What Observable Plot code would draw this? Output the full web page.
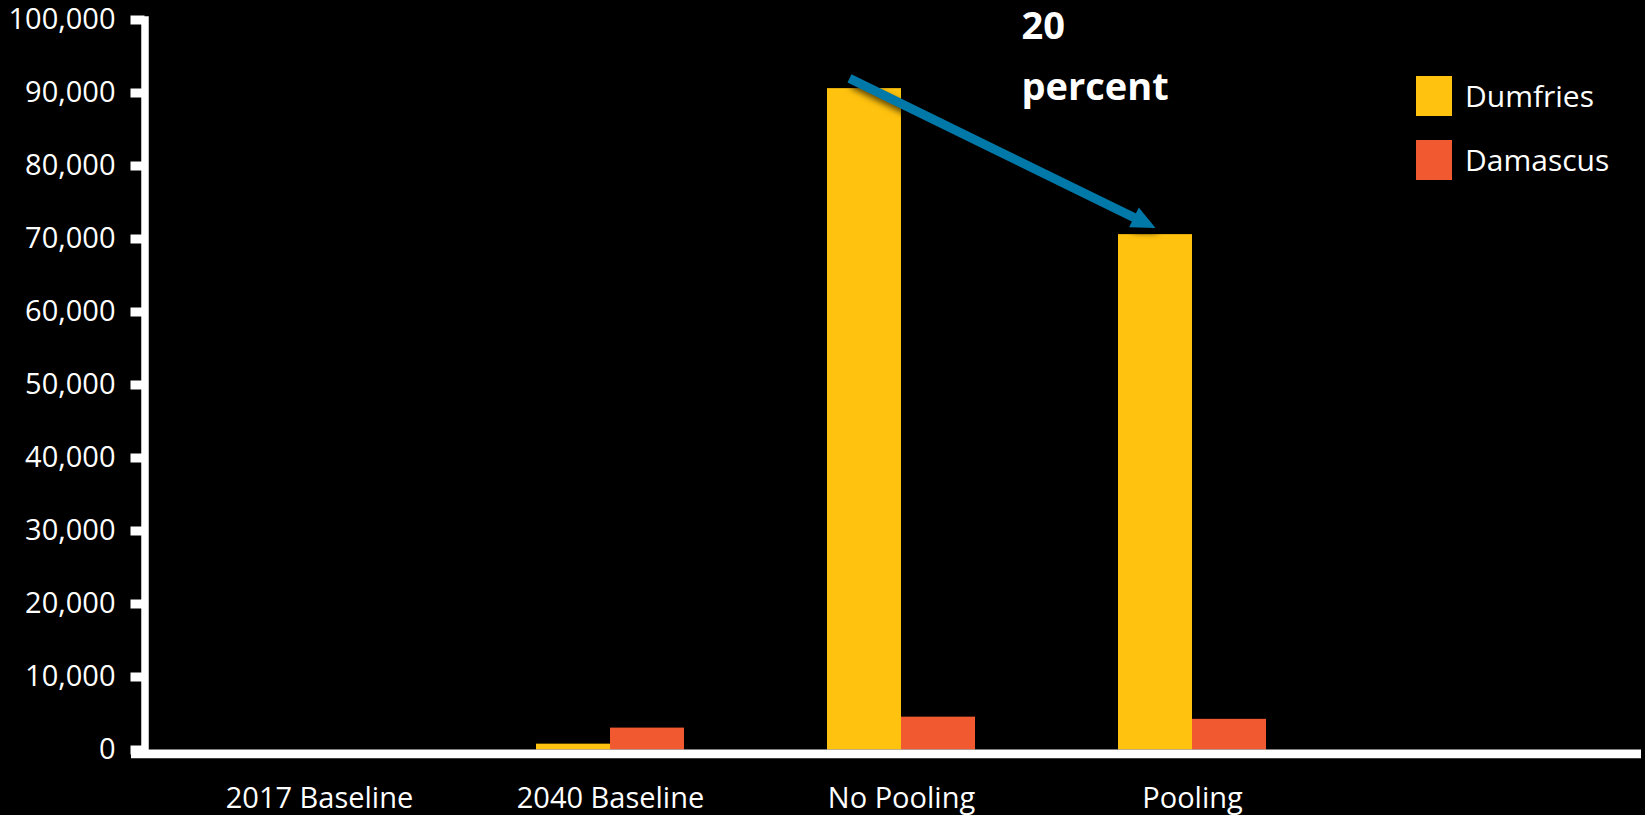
<!DOCTYPE html>
<html>
<head>
<meta charset="utf-8">
<script src="https://cdn.jsdelivr.net/npm/d3@7"></script>
<script src="https://cdn.jsdelivr.net/npm/@observablehq/plot@0.6"></script>
<style>
  html, body { margin: 0; padding: 0; background: #000; }
  #chart { position: relative; width: 1645px; height: 815px; font-family: "Open Sans", sans-serif; color: #fff; }
  #chart svg { display: block; }
  .legend { position: absolute; left: 1416px; top: 76px; }
  .legend .row { display: flex; align-items: center; height: 40px; margin-bottom: 24px; }
  .legend .swatch { width: 36px; height: 40px; margin-right: 13px; }
  .legend .name { font-size: 30px; font-weight: 500; line-height: 1; white-space: nowrap; }
</style>
</head>
<body>
<div id="chart"></div>
<script>
// Scenarios along the x axis
const categories = ["2017 Baseline", "2040 Baseline", "No Pooling", "Pooling"];
// Series
const series = ["Dumfries", "Damascus"];
const dumfries = [0, 800, 90600, 70600];
const damascus = [0, 3000, 4500, 4200];
const colors = ["#FFC20E", "#F15A31"];
// Y axis ticks
const yTicks = [0, 10000, 20000, 30000, 40000, 50000, 60000, 70000, 80000, 90000, 100000];
// Callout arrow from the No Pooling bar down to the Pooling bar
const arrowFrom = 91000;
const arrowTo = 71500;
const arrowColor = "#0079A9";
const callout = "20\npercent";

const rows = categories.flatMap((c, i) => [
  {category: c, series: "Dumfries", value: dumfries[i]},
  {category: c, series: "Damascus", value: damascus[i]}
]);

// Filled triangular arrowhead with its tip at the origin, pointing along +x
const arrowHead = {
  draw(context) {
    context.moveTo(0, 0);
    context.lineTo(-24, -11);
    context.lineTo(-24, 11);
    context.closePath();
  }
};

const step = 291, pairWidth = 148;
const pIn = 1 - pairWidth / step;

const chart = Plot.plot({
  width: 1645,
  height: 815,
  marginLeft: 144.5,
  marginRight: 4,
  marginTop: 19.5,
  marginBottom: 65.5,
  style: {background: "#000", color: "#fff", fontFamily: "'Open Sans', sans-serif", fontSize: "29px", fontWeight: 500, overflow: "visible"},
  x: {domain: categories, range: [173.5, 173.5 + step * categories.length], paddingInner: pIn, paddingOuter: pIn / 2, round: false, label: null},
  y: {domain: [0, 100000], label: null},
  color: {domain: series, range: colors},
  marks: [
    Plot.barY(rows.filter(d => d.series === "Dumfries"), {x: "category", y: "value", fill: "series", insetRight: pairWidth / 2}),
    Plot.barY(rows.filter(d => d.series === "Damascus"), {x: "category", y: "value", fill: "series", insetLeft: pairWidth / 2}),
    Plot.axisY(yTicks, {tickSize: 14, tickPadding: 15.5, strokeWidth: 9, tickFormat: d3.format(","), fontSize: 29, stroke: "#fff", fill: "#fff"}),
    Plot.axisX({tickSize: 0, tickPadding: 37.5, fontSize: 29, fill: "#fff"}),
    Plot.frame({anchor: "left", stroke: "#fff", strokeWidth: 7.5}),
    Plot.ruleY([0], {stroke: "#fff", strokeWidth: 8.7, dy: 3.8, insetLeft: -13.5}),
    Plot.arrow([{from: "No Pooling", to: "Pooling", y1: arrowFrom, y2: arrowTo}], {
      x1: "from", x2: "to", y1: "y1", y2: "y2", dx: -pairWidth / 4,
      stroke: arrowColor, strokeWidth: 9, headLength: 0, insetStart: -16.7, insetEnd: 18, strokeLinecap: "butt"
    }),
    Plot.dot([{to: "Pooling", y: arrowTo}], {
      x: "to", y: "y", dx: -pairWidth / 4, symbol: arrowHead, rotate: 26.1, r: 10, fill: arrowColor, stroke: "none"
    }),
    Plot.text([{at: "No Pooling", y: 100000, label: callout}], {
      x: "at", y: "y", text: "label", dx: 120, dy: 79.5, textAnchor: "start", lineAnchor: "bottom",
      lineHeight: 1.58, fontSize: 38, fontWeight: 700, fill: "#fff"
    })
  ]
});

// Soft shadow under the callout arrow
chart.querySelectorAll('g[aria-label="arrow"], g[aria-label="dot"]').forEach(g => {
  g.style.filter = "drop-shadow(3px 5px 3px rgba(0,0,0,0.65))";
});

const root = document.getElementById("chart");
root.appendChild(chart);

// Legend
const legend = document.createElement("div");
legend.className = "legend";
series.forEach((s, i) => {
  const row = document.createElement("div");
  row.className = "row";
  const sw = document.createElement("div");
  sw.className = "swatch";
  sw.style.background = colors[i];
  const name = document.createElement("div");
  name.className = "name";
  name.textContent = s;
  row.appendChild(sw);
  row.appendChild(name);
  legend.appendChild(row);
});
root.appendChild(legend);
</script>
</body>
</html>
